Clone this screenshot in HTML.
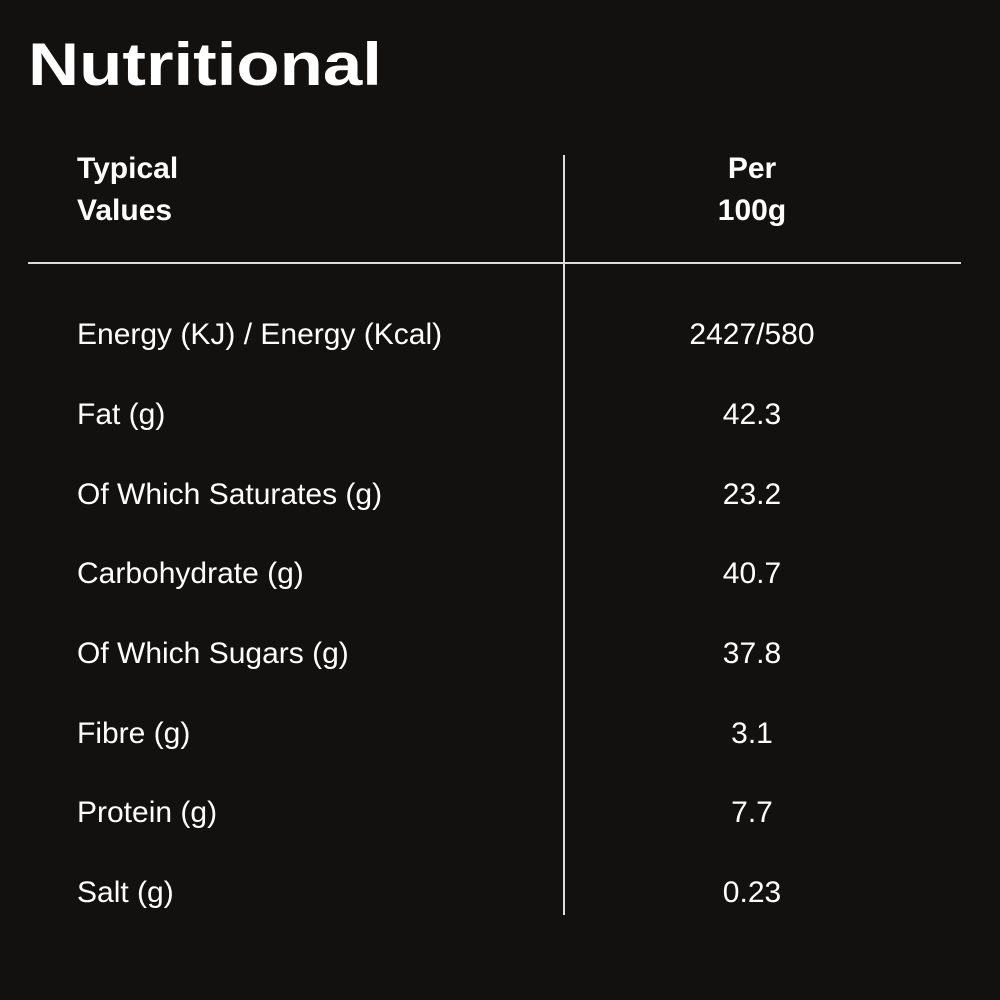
<!DOCTYPE html>
<html><head><style>
html,body{margin:0;padding:0;background:#121110;}
body{width:1000px;height:1000px;position:relative;overflow:hidden;font-family:"Liberation Sans",sans-serif;color:#fff;}
.t{position:absolute;white-space:nowrap;line-height:1;}
.h{font-weight:bold;font-size:30px;}
.r{font-size:30px;}
.v{position:absolute;left:652px;width:200px;text-align:center;font-size:30px;line-height:1;}
</style></head><body>
<div class="t" style="left:28px;top:35px;font-size:60px;font-weight:bold;transform:scaleX(1.18);transform-origin:0 0;">Nutritional</div>
<div class="t h" style="left:77px;top:154px;">Typical</div>
<div class="t h" style="left:77px;top:196px;">Values</div>
<div class="v h" style="top:154px;font-weight:bold;">Per</div>
<div class="v h" style="top:196px;font-weight:bold;">100g</div>
<div style="position:absolute;left:563px;top:155px;width:2px;height:760px;background:#ddd;"></div>
<div style="position:absolute;left:28px;top:262px;width:933px;height:2px;background:#ddd;"></div>
<div class="t r" style="left:77px;top:320px;">Energy (KJ) / Energy (Kcal)</div><div class="v" style="top:320px;">2427/580</div>
<div class="t r" style="left:77px;top:400px;">Fat (g)</div><div class="v" style="top:400px;">42.3</div>
<div class="t r" style="left:77px;top:480px;">Of Which Saturates (g)</div><div class="v" style="top:480px;">23.2</div>
<div class="t r" style="left:77px;top:559px;">Carbohydrate (g)</div><div class="v" style="top:559px;">40.7</div>
<div class="t r" style="left:77px;top:639px;">Of Which Sugars (g)</div><div class="v" style="top:639px;">37.8</div>
<div class="t r" style="left:77px;top:719px;">Fibre (g)</div><div class="v" style="top:719px;">3.1</div>
<div class="t r" style="left:77px;top:798px;">Protein (g)</div><div class="v" style="top:798px;">7.7</div>
<div class="t r" style="left:77px;top:878px;">Salt (g)</div><div class="v" style="top:878px;">0.23</div>
</body></html>
